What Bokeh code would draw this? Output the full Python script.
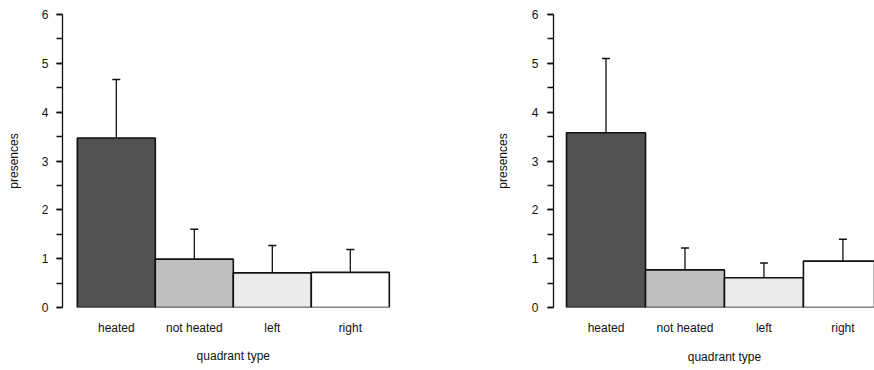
from bokeh.plotting import figure
from bokeh.layouts import row
from bokeh.models import (ColumnDataSource, Range1d, FixedTicker, SingleIntervalTicker,
                          Whisker, TeeHead, LinearAxis)
from bokeh.embed import file_html
from bokeh.resources import INLINE

# ---- data ----
categories = ["heated", "not heated", "left", "right"]
left_means = [3.47, 0.99, 0.71, 0.72]
left_errors = [1.20, 0.61, 0.56, 0.47]
right_means = [3.58, 0.77, 0.61, 0.95]
right_errors = [1.52, 0.45, 0.30, 0.45]
bar_colors = ["#525252", "#bfbfbf", "#ebebeb", "#ffffff"]
y_label = "presences"
x_label = "quadrant type"

FONT = "Liberation Sans"
FS = "12px"


def bare_x_axis(axis, ticks, labels, standoff):
    axis.ticker = FixedTicker(ticks=ticks)
    axis.major_label_overrides = {t: l for t, l in zip(ticks, labels)}
    axis.axis_line_color = None
    axis.major_tick_line_color = None
    axis.minor_tick_line_color = None
    axis.major_tick_out = 0
    axis.major_tick_in = 0
    axis.major_label_text_font = FONT
    axis.major_label_text_font_size = FS
    axis.major_label_text_color = "#111111"
    axis.major_label_standoff = standoff


def panel(means, errors, x_start, x_end, bl, br, bt, bb, lab_standoff, title_standoff,
          cat_standoff, xt_standoff):
    xs = list(range(1, len(categories) + 1))
    src = ColumnDataSource(dict(
        x=xs, top=means,
        upper=[m + e for m, e in zip(means, errors)],
        color=bar_colors,
    ))
    p = figure(width=437, height=370, output_backend="svg", toolbar_location=None,
               x_range=Range1d(x_start, x_end), y_range=Range1d(0, 6),
               min_border_left=bl, min_border_right=br,
               min_border_top=bt, min_border_bottom=bb)
    p.outline_line_color = None
    p.xgrid.visible = False
    p.ygrid.visible = False
    p.background_fill_color = "white"

    p.vbar(x="x", top="top", bottom=0, width=1.0, source=src,
           fill_color="color", line_color="#111111", line_width=1.6)
    w = Whisker(source=src, base="x", lower="top", upper="upper",
                lower_head=None,
                upper_head=TeeHead(size=8, line_color="#111111", line_width=1.5),
                line_color="#111111", line_width=1.3)
    p.add_layout(w)

    # y axis
    ya = p.yaxis[0]
    ya.ticker = SingleIntervalTicker(interval=1, num_minor_ticks=2)
    ya.axis_line_color = "#111111"
    ya.axis_line_width = 1.3
    ya.major_tick_line_color = "#111111"
    ya.major_tick_line_width = 1.3
    ya.minor_tick_line_color = "#111111"
    ya.minor_tick_line_width = 1.3
    ya.major_tick_out = 6
    ya.major_tick_in = 0
    ya.minor_tick_out = 6
    ya.minor_tick_in = 0
    ya.major_label_text_font = FONT
    ya.major_label_text_font_size = FS
    ya.major_label_text_color = "#111111"
    ya.major_label_standoff = lab_standoff
    ya.axis_label = y_label
    ya.axis_label_text_font = FONT
    ya.axis_label_text_font_size = FS
    ya.axis_label_text_font_style = "normal"
    ya.axis_label_text_color = "#111111"
    ya.axis_label_standoff = title_standoff

    # x axis: category names
    bare_x_axis(p.xaxis[0], xs, categories, cat_standoff)
    # x axis title, centred on the bar group
    centre = (xs[0] + xs[-1]) / 2
    xt = LinearAxis()
    bare_x_axis(xt, [centre], [x_label], xt_standoff)
    p.add_layout(xt, "below")
    return p


p1 = panel(left_means, left_errors, 0.31, 4.9, 62, 17, 14, 59, 8, 18, 13, 11)
p2 = panel(right_means, right_errors, 0.335, 4.40, 116, 0, 11, 63, 9, 19, 13, 12)

layout = row(p1, p2)
open("out.html", "w").write(file_html(layout, INLINE))
